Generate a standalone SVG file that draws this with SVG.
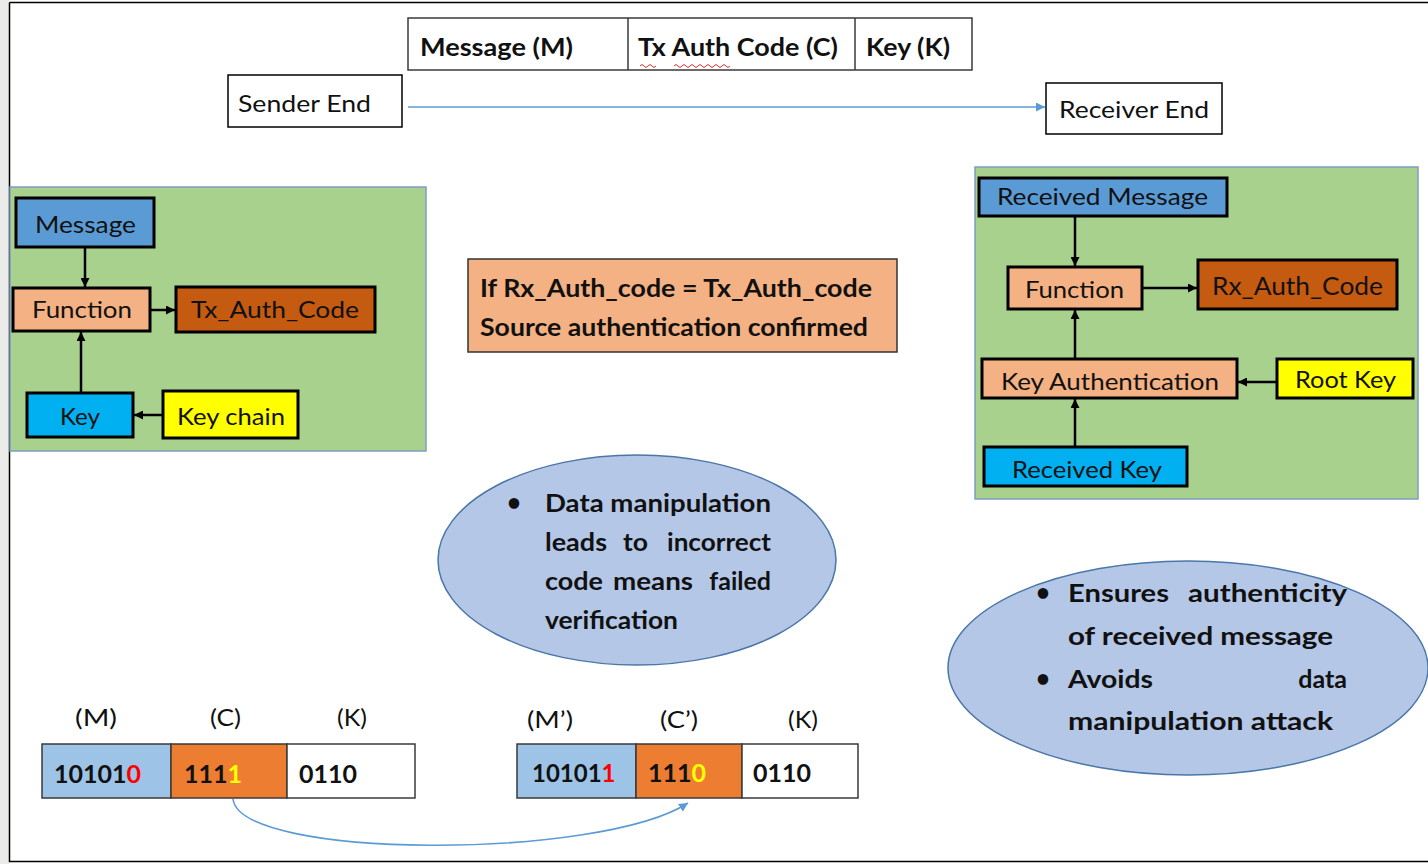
<svg xmlns="http://www.w3.org/2000/svg" width="1428" height="864" viewBox="0 0 1428 864">
<style>
text{font-family:Lato,"Liberation Sans",sans-serif;fill:#111}
.b{font-weight:bold}
.e{text-anchor:end}
.node{stroke:#000;stroke-width:3}
.thin{stroke:#3a3a3a;stroke-width:1.5}
.green{fill:#a9d18e;stroke:#7f9cc4;stroke-width:1.5}
.conn{stroke:#000;stroke-width:2.5;fill:none}
.blue{stroke:#5b9bd5;stroke-width:1.6;fill:none}
.ell{fill:#b4c7e7;stroke:#4a76a8;stroke-width:1.5}
</style>
<defs>
<marker id="ah" viewBox="0 0 10 10" refX="10" refY="5" markerWidth="9" markerHeight="9" markerUnits="userSpaceOnUse" orient="auto"><path d="M0,0 L10,5 L0,10 z" fill="#000"/></marker>
<marker id="bh" viewBox="0 0 10 10" refX="10" refY="5" markerWidth="9" markerHeight="9" markerUnits="userSpaceOnUse" orient="auto"><path d="M0,0 L10,5 L0,10 z" fill="#5b9bd5"/></marker>
</defs>
<rect x="0" y="0" width="1428" height="864" fill="#fff"/>
<rect x="0" y="0" width="9" height="864" fill="#ebebe9"/>
<g id="frame" stroke="#000" stroke-width="1.5" fill="none">
<path d="M9.5,2.5 H1428 M9.5,2.5 V861.5 H1428"/>
</g>

<g id="header">
<rect x="408" y="18" width="564" height="52" fill="#fff" class="thin"/>
<line x1="628" y1="18" x2="628" y2="70" class="thin"/>
<line x1="855" y1="18" x2="855" y2="70" class="thin"/>
<text x="420" y="56" class="b" font-size="24" textLength="153" lengthAdjust="spacingAndGlyphs">Message (M)</text>
<text x="638" y="56" class="b" font-size="24" textLength="200" lengthAdjust="spacingAndGlyphs">Tx Auth Code (C)</text>
<text x="866" y="56" class="b" font-size="24" textLength="84" lengthAdjust="spacingAndGlyphs">Key (K)</text>
<path d="M640,66 q2,-3 4,0 t4,0 t4,0 t4,0 M674,66 q2,-3 4,0 t4,0 t4,0 t4,0 t4,0 t4,0 t4,0 t4,0 t4,0 t4,0 t4,0 t4,0 t4,0 t4,0" stroke="#e03030" stroke-width="1" fill="none"/>
</g>

<g id="sender">
<rect x="228" y="75" width="174" height="52" fill="#fff" stroke="#000" stroke-width="1.5"/>
<text x="238" y="112" font-size="24" textLength="133" lengthAdjust="spacingAndGlyphs">Sender End</text>
</g>
<g id="receiver">
<rect x="1046" y="83" width="176" height="51" fill="#fff" stroke="#000" stroke-width="1.5"/>
<text x="1059" y="118" font-size="24" textLength="150" lengthAdjust="spacingAndGlyphs">Receiver End</text>
</g>

<g id="sender-panel">
<rect x="10" y="187" width="416" height="264" class="green"/>
</g>
<g id="s-message"><rect x="16" y="198" width="138" height="49" fill="#5b9bd5" class="node"/><text x="35" y="233" font-size="24" textLength="101" lengthAdjust="spacingAndGlyphs">Message</text></g>
<g id="s-function"><rect x="13" y="288" width="137" height="43" fill="#f4b183" class="node"/><text x="32" y="318" font-size="24" textLength="100" lengthAdjust="spacingAndGlyphs">Function</text></g>
<g id="s-tx"><rect x="176" y="287" width="199" height="45" fill="#c55a11" class="node"/><text x="191" y="318" font-size="24" textLength="168" lengthAdjust="spacingAndGlyphs">Tx_Auth_Code</text></g>
<g id="s-key"><rect x="27" y="393" width="106" height="44" fill="#00b0f0" class="node"/><text x="60" y="425" font-size="24" textLength="40" lengthAdjust="spacingAndGlyphs">Key</text></g>
<g id="s-keychain"><rect x="163" y="391" width="135" height="47" fill="#ffff00" class="node"/><text x="177" y="425" font-size="24" textLength="108" lengthAdjust="spacingAndGlyphs">Key chain</text></g>

<g id="receiver-panel">
<rect x="975" y="167" width="443" height="332" class="green"/>
</g>
<g id="r-message"><rect x="979" y="178" width="248" height="38" fill="#5b9bd5" class="node"/><text x="997" y="205" font-size="24" textLength="211" lengthAdjust="spacingAndGlyphs">Received Message</text></g>
<g id="r-function"><rect x="1008" y="267" width="134" height="42" fill="#f4b183" class="node"/><text x="1025" y="298" font-size="24" textLength="99" lengthAdjust="spacingAndGlyphs">Function</text></g>
<g id="r-rx"><rect x="1198" y="260" width="199" height="49" fill="#c55a11" class="node"/><text x="1212" y="295" font-size="25" textLength="171" lengthAdjust="spacingAndGlyphs">Rx_Auth_Code</text></g>
<g id="r-keyauth"><rect x="982" y="359" width="255" height="39" fill="#f4b183" class="node"/><text x="1001" y="390" font-size="24" textLength="218" lengthAdjust="spacingAndGlyphs">Key Authentication</text></g>
<g id="r-rootkey"><rect x="1277" y="359" width="136" height="39" fill="#ffff00" class="node"/><text x="1295" y="388" font-size="24" textLength="101" lengthAdjust="spacingAndGlyphs">Root Key</text></g>
<g id="r-reckey"><rect x="984" y="447" width="203" height="39" fill="#00b0f0" class="node"/><text x="1012" y="478" font-size="24" textLength="150" lengthAdjust="spacingAndGlyphs">Received Key</text></g>

<g id="condition">
<rect x="468" y="259" width="429" height="93" fill="#f4b183" stroke="#333" stroke-width="1.5"/>
<text x="480" y="297" class="b" font-size="24" textLength="392" lengthAdjust="spacingAndGlyphs">If Rx_Auth_code = Tx_Auth_code</text>
<text x="480" y="336" class="b" font-size="24" textLength="388" lengthAdjust="spacingAndGlyphs">Source authentication confirmed</text>
</g>

<g id="note-left">
<ellipse cx="637" cy="560" rx="199" ry="105" class="ell"/>
<text x="507" y="511" class="b" font-size="24">•</text>
<text x="545" y="512" class="b" font-size="25" textLength="226" lengthAdjust="spacingAndGlyphs">Data manipulation</text>
<text x="545" y="551" class="b" font-size="25" textLength="62" lengthAdjust="spacingAndGlyphs">leads</text>
<text x="623" y="551" class="b" font-size="25" textLength="25" lengthAdjust="spacingAndGlyphs">to</text>
<text x="667" y="551" class="b" font-size="25" textLength="104" lengthAdjust="spacingAndGlyphs">incorrect</text>
<text x="545" y="590" class="b" font-size="25" textLength="58" lengthAdjust="spacingAndGlyphs">code</text>
<text x="613" y="590" class="b" font-size="25" textLength="80" lengthAdjust="spacingAndGlyphs">means</text>
<text x="771" y="590" class="b e" font-size="25">failed</text>
<text x="545" y="629" class="b" font-size="25" textLength="133" lengthAdjust="spacingAndGlyphs">verification</text>
</g>

<g id="note-right">
<ellipse cx="1188" cy="668" rx="240" ry="107" class="ell"/>
<text x="1036" y="601" class="b" font-size="24">•</text>
<text x="1068" y="602" class="b" font-size="25" textLength="101" lengthAdjust="spacingAndGlyphs">Ensures</text>
<text x="1188" y="602" class="b" font-size="25" textLength="159" lengthAdjust="spacingAndGlyphs">authenticity</text>
<text x="1068" y="645" class="b" font-size="25" textLength="265" lengthAdjust="spacingAndGlyphs">of received message</text>
<text x="1036" y="687" class="b" font-size="24">•</text>
<text x="1068" y="688" class="b" font-size="25" textLength="85" lengthAdjust="spacingAndGlyphs">Avoids</text>
<text x="1347" y="688" class="b e" font-size="25">data</text>
<text x="1068" y="730" class="b" font-size="25" textLength="265" lengthAdjust="spacingAndGlyphs">manipulation attack</text>
</g>

<g id="packet-original">
<text x="75" y="726" font-size="24" textLength="42" lengthAdjust="spacingAndGlyphs">(M)</text>
<text x="210" y="726" font-size="24" textLength="31" lengthAdjust="spacingAndGlyphs">(C)</text>
<text x="337" y="726" font-size="24" textLength="30" lengthAdjust="spacingAndGlyphs">(K)</text>
<rect x="42" y="744" width="129" height="54" fill="#9dc3e6" class="thin"/>
<rect x="171" y="744" width="116" height="54" fill="#ed7d31" class="thin"/>
<rect x="287" y="744" width="128" height="54" fill="#fff" class="thin"/>
<text x="54" y="783" class="b" font-size="25">10101<tspan fill="#ff0000">0</tspan></text>
<text x="184" y="783" class="b" font-size="25">111<tspan fill="#ffff00">1</tspan></text>
<text x="299" y="783" class="b" font-size="25">0110</text>
</g>

<g id="packet-modified">
<text x="527" y="728" font-size="23" textLength="46" lengthAdjust="spacingAndGlyphs">(M’)</text>
<text x="660" y="728" font-size="23" textLength="38" lengthAdjust="spacingAndGlyphs">(C’)</text>
<text x="788" y="728" font-size="23" textLength="30" lengthAdjust="spacingAndGlyphs">(K)</text>
<rect x="517" y="744" width="119" height="54" fill="#9dc3e6" class="thin"/>
<rect x="636" y="744" width="106" height="54" fill="#ed7d31" class="thin"/>
<rect x="742" y="744" width="116" height="54" fill="#fff" class="thin"/>
<text x="532" y="782" class="b" font-size="24">10101<tspan fill="#ff0000">1</tspan></text>
<text x="648" y="782" class="b" font-size="25">111<tspan fill="#ffff00">0</tspan></text>
<text x="753" y="782" class="b" font-size="25">0110</text>
</g>

<g id="connectors">
<line x1="408" y1="107" x2="1045" y2="107" class="blue" marker-end="url(#bh)"/>
<line x1="85" y1="247" x2="85" y2="287" class="conn" marker-end="url(#ah)"/>
<line x1="81" y1="393" x2="81" y2="332" class="conn" marker-end="url(#ah)"/>
<line x1="150" y1="310" x2="175" y2="310" class="conn" marker-end="url(#ah)"/>
<line x1="163" y1="415" x2="134" y2="415" class="conn" marker-end="url(#ah)"/>
<line x1="1075" y1="216" x2="1075" y2="266" class="conn" marker-end="url(#ah)"/>
<line x1="1142" y1="288" x2="1197" y2="288" class="conn" marker-end="url(#ah)"/>
<line x1="1075" y1="359" x2="1075" y2="310" class="conn" marker-end="url(#ah)"/>
<line x1="1277" y1="382" x2="1238" y2="382" class="conn" marker-end="url(#ah)"/>
<line x1="1075" y1="447" x2="1075" y2="399" class="conn" marker-end="url(#ah)"/>
<path d="M233,799 C240,860 600,860 688,803" class="blue" marker-end="url(#bh)"/>
</g>
</svg>
